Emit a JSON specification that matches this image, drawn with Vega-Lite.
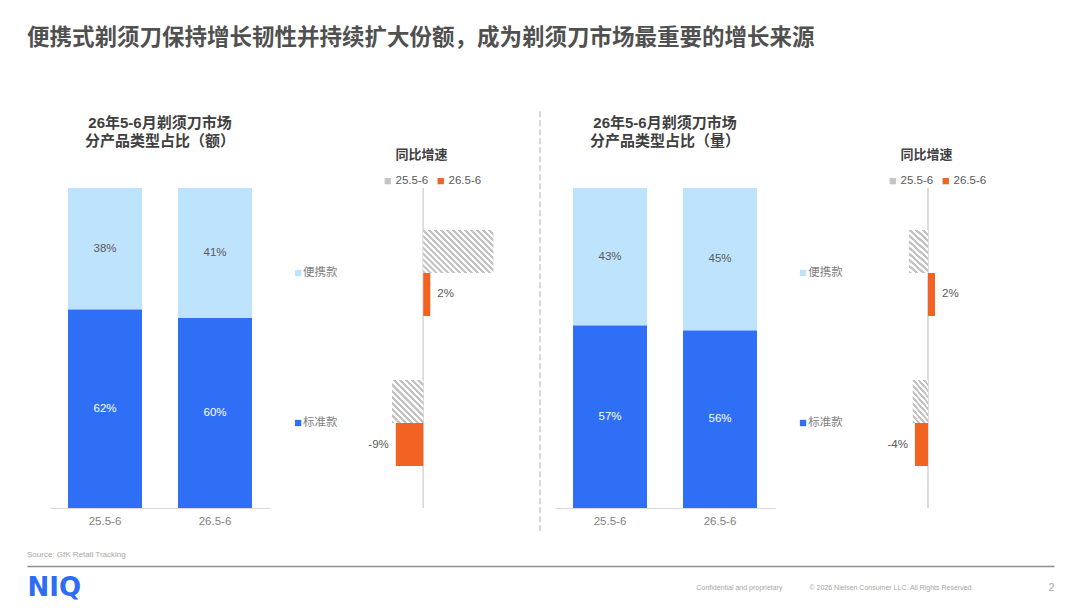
{
  "$schema": "https://vega.github.io/schema/vega-lite/v6.json",
  "background": "white",
  "padding": {"left": 24, "top": 26, "right": 0, "bottom": 0},
  "autosize": {"type": "pad"},
  "config": {
    "view": {"stroke": null},
    "font": "Liberation Sans, Noto Sans CJK SC, sans-serif",
    "axis": {"grid": false},
    "title": {"font": "Liberation Sans, Noto Sans CJK SC, sans-serif"}
  },
  "title": {
    "text": "便携式剃须刀保持增长韧性并持续扩大份额，成为剃须刀市场最重要的增长来源",
    "anchor": "start",
    "frame": "group",
    "fontSize": 22.5,
    "fontWeight": "bold",
    "color": "#505050",
    "offset": 61
  },
  "bounds": "full",
  "spacing": 15,
  "vconcat": [
    {
      "bounds": "flush",
      "spacing": 0,
      "resolve": {
        "scale": {"color": "independent", "yOffset": "independent"},
        "legend": {"color": "independent"}
      },
      "hconcat": [
        {
          "width": 243,
          "height": 320,
          "title": {"text": ["26年5-6月剃须刀市场", "分产品类型占比（额）"], "fontSize": 15, "fontWeight": "bold", "color": "#404040", "lineHeight": 18, "offset": 39, "dx": 11.5},
          "data": {"values": [
            {"period": "25.5-6", "product": "便携款", "value": 38},
            {"period": "25.5-6", "product": "标准款", "value": 62},
            {"period": "26.5-6", "product": "便携款", "value": 41},
            {"period": "26.5-6", "product": "标准款", "value": 60}
          ]},
          "transform": [
            {"stack": "value", "groupby": ["period"], "offset": "normalize", "sort": [{"field": "product", "order": "descending"}], "as": ["v0", "v1"]},
            {"calculate": "(datum.v0 + datum.v1) / 2", "as": "mid"},
            {"calculate": "datum.value + '%'", "as": "label"}
          ],
          "encoding": {
            "x": {"field": "period", "type": "nominal", "scale": {"domain": ["25.5-6", "26.5-6"], "paddingInner": 0, "paddingOuter": 0.10455, "align": 1},
              "axis": {"title": null, "labelAngle": 0, "ticks": false, "domainColor": "#d9d9d9", "domainDash": [0, 23, 220, 1000], "labelColor": "#7f7f7f", "labelFontSize": 11.5, "labelPadding": 7}}
          },
          "layer": [
            {
              "mark": {"type": "bar", "width": 74},
              "encoding": {
                "y": {"field": "v0", "type": "quantitative", "scale": {"domain": [0, 1], "nice": false}, "axis": null},
                "y2": {"field": "v1"},
                "color": {"field": "product", "type": "nominal", "scale": {"domain": ["便携款", "标准款"], "range": ["#bee3fc", "#2e6ff5"]}, "legend": null}
              }
            },
            {
              "mark": {"type": "text", "fontSize": 11.5},
              "encoding": {
                "y": {"field": "mid", "type": "quantitative"},
                "text": {"field": "label"},
                "color": {"condition": {"test": "datum.product == '标准款'", "value": "#ffffff"}, "value": "#595959"}
              }
            }
          ]
        },
        {
          "width": 265,
          "height": 320,
          "title": {"text": "同比增速", "fontSize": 13, "fontWeight": "bold", "color": "#404040", "anchor": "middle", "dx": 19, "offset": 13},
          "data": {"values": [
            {"cat": "便携款", "period": "25.5-6", "value": 22},
            {"cat": "便携款", "period": "26.5-6", "value": 2.2},
            {"cat": "标准款", "period": "25.5-6", "value": -9.8},
            {"cat": "标准款", "period": "26.5-6", "value": -8.6}
          ]},
          "transform": [{"calculate": "round(datum.value) + '%'", "as": "label"}],
          "encoding": {
            "x": {"field": "value", "type": "quantitative", "scale": {"domain": [-48, 35], "nice": false, "zero": false}, "axis": null}
          },
          "layer": [
            {"mark": {"type": "rule", "color": "#d9d9d9"}, "encoding": {"x": {"datum": 0, "type": "quantitative"}}},
            {
              "transform": [{"filter": "datum.period == '25.5-6' && datum.cat == '便携款'"}],
              "mark": {"type": "bar", "fill": {"gradient": "linear", "x1": 0, "y1": 1, "x2": 1.173, "y2": 0.282, "stops": [
                {"offset": 0, "color": "#c2c2c2"}, {"offset": 0.0237, "color": "#c2c2c2"}, {"offset": 0.0263, "color": "#ffffff"}, {"offset": 0.05, "color": "#ffffff"},
                {"offset": 0.0526, "color": "#c2c2c2"}, {"offset": 0.0763, "color": "#c2c2c2"}, {"offset": 0.0789, "color": "#ffffff"}, {"offset": 0.1026, "color": "#ffffff"},
                {"offset": 0.1053, "color": "#c2c2c2"}, {"offset": 0.1289, "color": "#c2c2c2"}, {"offset": 0.1316, "color": "#ffffff"}, {"offset": 0.1553, "color": "#ffffff"},
                {"offset": 0.1579, "color": "#c2c2c2"}, {"offset": 0.1816, "color": "#c2c2c2"}, {"offset": 0.1842, "color": "#ffffff"}, {"offset": 0.2079, "color": "#ffffff"},
                {"offset": 0.2105, "color": "#c2c2c2"}, {"offset": 0.2342, "color": "#c2c2c2"}, {"offset": 0.2368, "color": "#ffffff"}, {"offset": 0.2605, "color": "#ffffff"},
                {"offset": 0.2632, "color": "#c2c2c2"}, {"offset": 0.2868, "color": "#c2c2c2"}, {"offset": 0.2895, "color": "#ffffff"}, {"offset": 0.3132, "color": "#ffffff"},
                {"offset": 0.3158, "color": "#c2c2c2"}, {"offset": 0.3395, "color": "#c2c2c2"}, {"offset": 0.3421, "color": "#ffffff"}, {"offset": 0.3658, "color": "#ffffff"},
                {"offset": 0.3684, "color": "#c2c2c2"}, {"offset": 0.3921, "color": "#c2c2c2"}, {"offset": 0.3947, "color": "#ffffff"}, {"offset": 0.4184, "color": "#ffffff"},
                {"offset": 0.4211, "color": "#c2c2c2"}, {"offset": 0.4447, "color": "#c2c2c2"}, {"offset": 0.4474, "color": "#ffffff"}, {"offset": 0.4711, "color": "#ffffff"},
                {"offset": 0.4737, "color": "#c2c2c2"}, {"offset": 0.4974, "color": "#c2c2c2"}, {"offset": 0.5, "color": "#ffffff"}, {"offset": 0.5237, "color": "#ffffff"},
                {"offset": 0.5263, "color": "#c2c2c2"}, {"offset": 0.55, "color": "#c2c2c2"}, {"offset": 0.5526, "color": "#ffffff"}, {"offset": 0.5763, "color": "#ffffff"},
                {"offset": 0.5789, "color": "#c2c2c2"}, {"offset": 0.6026, "color": "#c2c2c2"}, {"offset": 0.6053, "color": "#ffffff"}, {"offset": 0.6289, "color": "#ffffff"},
                {"offset": 0.6316, "color": "#c2c2c2"}, {"offset": 0.6553, "color": "#c2c2c2"}, {"offset": 0.6579, "color": "#ffffff"}, {"offset": 0.6816, "color": "#ffffff"},
                {"offset": 0.6842, "color": "#c2c2c2"}, {"offset": 0.7079, "color": "#c2c2c2"}, {"offset": 0.7105, "color": "#ffffff"}, {"offset": 0.7342, "color": "#ffffff"},
                {"offset": 0.7368, "color": "#c2c2c2"}, {"offset": 0.7605, "color": "#c2c2c2"}, {"offset": 0.7632, "color": "#ffffff"}, {"offset": 0.7868, "color": "#ffffff"},
                {"offset": 0.7895, "color": "#c2c2c2"}, {"offset": 0.8132, "color": "#c2c2c2"}, {"offset": 0.8158, "color": "#ffffff"}, {"offset": 0.8395, "color": "#ffffff"},
                {"offset": 0.8421, "color": "#c2c2c2"}, {"offset": 0.8658, "color": "#c2c2c2"}, {"offset": 0.8684, "color": "#ffffff"}, {"offset": 0.8921, "color": "#ffffff"},
                {"offset": 0.8947, "color": "#c2c2c2"}, {"offset": 0.9184, "color": "#c2c2c2"}, {"offset": 0.9211, "color": "#ffffff"}, {"offset": 0.9447, "color": "#ffffff"},
                {"offset": 0.9474, "color": "#c2c2c2"}, {"offset": 0.9711, "color": "#c2c2c2"}, {"offset": 0.9737, "color": "#ffffff"}, {"offset": 1, "color": "#ffffff"}
              ]}},
              "encoding": {
                "y": {"field": "cat", "type": "nominal", "scale": {"domain": ["便携款", "标准款"], "paddingInner": 0.4267, "paddingOuter": 0.28}, "axis": null},
                "yOffset": {"field": "period", "type": "nominal", "scale": {"domain": ["25.5-6", "26.5-6"], "paddingInner": 0, "paddingOuter": 0}}
              }
            },
            {
              "transform": [{"filter": "datum.period == '25.5-6' && datum.cat == '标准款'"}],
              "mark": {"type": "bar", "fill": {"gradient": "linear", "x1": 0, "y1": 1, "x2": 0.822, "y2": -0.129, "stops": [
                {"offset": 0, "color": "#c2c2c2"}, {"offset": 0.0375, "color": "#c2c2c2"}, {"offset": 0.0417, "color": "#ffffff"}, {"offset": 0.0792, "color": "#ffffff"},
                {"offset": 0.0833, "color": "#c2c2c2"}, {"offset": 0.1208, "color": "#c2c2c2"}, {"offset": 0.125, "color": "#ffffff"}, {"offset": 0.1625, "color": "#ffffff"},
                {"offset": 0.1667, "color": "#c2c2c2"}, {"offset": 0.2042, "color": "#c2c2c2"}, {"offset": 0.2083, "color": "#ffffff"}, {"offset": 0.2458, "color": "#ffffff"},
                {"offset": 0.25, "color": "#c2c2c2"}, {"offset": 0.2875, "color": "#c2c2c2"}, {"offset": 0.2917, "color": "#ffffff"}, {"offset": 0.3292, "color": "#ffffff"},
                {"offset": 0.3333, "color": "#c2c2c2"}, {"offset": 0.3708, "color": "#c2c2c2"}, {"offset": 0.375, "color": "#ffffff"}, {"offset": 0.4125, "color": "#ffffff"},
                {"offset": 0.4167, "color": "#c2c2c2"}, {"offset": 0.4542, "color": "#c2c2c2"}, {"offset": 0.4583, "color": "#ffffff"}, {"offset": 0.4958, "color": "#ffffff"},
                {"offset": 0.5, "color": "#c2c2c2"}, {"offset": 0.5375, "color": "#c2c2c2"}, {"offset": 0.5417, "color": "#ffffff"}, {"offset": 0.5792, "color": "#ffffff"},
                {"offset": 0.5833, "color": "#c2c2c2"}, {"offset": 0.6208, "color": "#c2c2c2"}, {"offset": 0.625, "color": "#ffffff"}, {"offset": 0.6625, "color": "#ffffff"},
                {"offset": 0.6667, "color": "#c2c2c2"}, {"offset": 0.7042, "color": "#c2c2c2"}, {"offset": 0.7083, "color": "#ffffff"}, {"offset": 0.7458, "color": "#ffffff"},
                {"offset": 0.75, "color": "#c2c2c2"}, {"offset": 0.7875, "color": "#c2c2c2"}, {"offset": 0.7917, "color": "#ffffff"}, {"offset": 0.8292, "color": "#ffffff"},
                {"offset": 0.8333, "color": "#c2c2c2"}, {"offset": 0.8708, "color": "#c2c2c2"}, {"offset": 0.875, "color": "#ffffff"}, {"offset": 0.9125, "color": "#ffffff"},
                {"offset": 0.9167, "color": "#c2c2c2"}, {"offset": 0.9542, "color": "#c2c2c2"}, {"offset": 0.9583, "color": "#ffffff"}, {"offset": 1, "color": "#ffffff"}
              ]}},
              "encoding": {
                "y": {"field": "cat", "type": "nominal", "scale": {"domain": ["便携款", "标准款"], "paddingInner": 0.4267, "paddingOuter": 0.28}, "axis": null},
                "yOffset": {"field": "period", "type": "nominal", "scale": {"domain": ["25.5-6", "26.5-6"], "paddingInner": 0, "paddingOuter": 0}}
              }
            },
            {
              "transform": [{"filter": "datum.period == '26.5-6'"}],
              "mark": {"type": "bar"},
              "encoding": {
                "y": {"field": "cat", "type": "nominal", "scale": {"domain": ["便携款", "标准款"], "paddingInner": 0.4267, "paddingOuter": 0.28}, "axis": null},
                "yOffset": {"field": "period", "type": "nominal", "scale": {"domain": ["25.5-6", "26.5-6"], "paddingInner": 0, "paddingOuter": 0}},
                "color": {"field": "period", "type": "nominal", "scale": {"domain": ["25.5-6", "26.5-6"], "range": ["#c4c4c4", "#f26222"]},
                  "legend": {"orient": "none", "legendX": 112, "legendY": -13, "direction": "horizontal", "title": null, "symbolType": "square", "symbolSize": 40, "labelFontSize": 11.5, "labelColor": "#595959", "columnPadding": 6, "labelOffset": 2}}
              }
            },
            {
              "transform": [{"filter": "datum.period == '26.5-6' && datum.value > 0"}],
              "mark": {"type": "text", "align": "left", "dx": 7, "fontSize": 11.5, "color": "#595959"},
              "encoding": {
                "y": {"field": "cat", "type": "nominal", "scale": {"domain": ["便携款", "标准款"], "paddingInner": 0.4267, "paddingOuter": 0.28}, "axis": null},
                "yOffset": {"field": "period", "type": "nominal", "scale": {"domain": ["25.5-6", "26.5-6"], "paddingInner": 0, "paddingOuter": 0}},
                "text": {"field": "label"}
              }
            },
            {
              "transform": [{"filter": "datum.period == '26.5-6' && datum.value < 0"}],
              "mark": {"type": "text", "align": "right", "dx": -7, "fontSize": 11.5, "color": "#595959"},
              "encoding": {
                "y": {"field": "cat", "type": "nominal", "scale": {"domain": ["便携款", "标准款"], "paddingInner": 0.4267, "paddingOuter": 0.28}, "axis": null},
                "yOffset": {"field": "period", "type": "nominal", "scale": {"domain": ["25.5-6", "26.5-6"], "paddingInner": 0, "paddingOuter": 0}},
                "text": {"field": "label"}
              }
            },
            {
              "transform": [{"filter": "datum.period == '26.5-6'"}],
              "mark": {"type": "point", "shape": "square", "size": 40, "filled": true, "opacity": 1},
              "encoding": {
                "x": {"datum": -39.2, "type": "quantitative"},
                "y": {"field": "cat", "type": "nominal", "scale": {"domain": ["便携款", "标准款"], "paddingInner": 0.4267, "paddingOuter": 0.28}, "axis": null},
                "fill": {"condition": {"test": "datum.cat == '便携款'", "value": "#bee3fc"}, "value": "#2e6ff5"}
              }
            },
            {
              "transform": [{"filter": "datum.period == '26.5-6'"}],
              "mark": {"type": "text", "align": "left", "baseline": "middle", "fontSize": 11.5, "color": "#7f7f7f"},
              "encoding": {
                "x": {"datum": -37.7, "type": "quantitative"},
                "y": {"field": "cat", "type": "nominal", "scale": {"domain": ["便携款", "标准款"], "paddingInner": 0.4267, "paddingOuter": 0.28}, "axis": null},
                "text": {"field": "cat"}
              }
            }
          ]
        },
        {
          "width": 20,
          "height": 320,
          "data": {"values": [{}]},
          "mark": {"type": "rule", "color": "#d9d9d9", "strokeWidth": 2, "strokeDash": [6, 3]},
          "encoding": {
            "x": {"datum": 0.25, "type": "quantitative", "scale": {"domain": [0, 1], "nice": false}, "axis": null},
            "y": {"datum": 1.24, "type": "quantitative", "scale": {"domain": [0, 1], "nice": false}, "axis": null},
            "y2": {"datum": -0.08}
          }
        },
        {
          "width": 220,
          "height": 320,
          "title": {"text": ["26年5-6月剃须刀市场", "分产品类型占比（量）"], "fontSize": 15, "fontWeight": "bold", "color": "#404040", "lineHeight": 18, "offset": 39},
          "data": {"values": [
            {"period": "25.5-6", "product": "便携款", "value": 43},
            {"period": "25.5-6", "product": "标准款", "value": 57},
            {"period": "26.5-6", "product": "便携款", "value": 45},
            {"period": "26.5-6", "product": "标准款", "value": 56}
          ]},
          "transform": [
            {"stack": "value", "groupby": ["period"], "offset": "normalize", "sort": [{"field": "product", "order": "descending"}], "as": ["v0", "v1"]},
            {"calculate": "(datum.v0 + datum.v1) / 2", "as": "mid"},
            {"calculate": "datum.value + '%'", "as": "label"}
          ],
          "encoding": {
            "x": {"field": "period", "type": "nominal", "scale": {"domain": ["25.5-6", "26.5-6"], "paddingInner": 0, "paddingOuter": 0},
              "axis": {"title": null, "labelAngle": 0, "ticks": false, "domainColor": "#d9d9d9", "labelColor": "#7f7f7f", "labelFontSize": 11.5, "labelPadding": 7}}
          },
          "layer": [
            {
              "mark": {"type": "bar", "width": 74},
              "encoding": {
                "y": {"field": "v0", "type": "quantitative", "scale": {"domain": [0, 1], "nice": false}, "axis": null},
                "y2": {"field": "v1"},
                "color": {"field": "product", "type": "nominal", "scale": {"domain": ["便携款", "标准款"], "range": ["#bee3fc", "#2e6ff5"]}, "legend": null}
              }
            },
            {
              "mark": {"type": "text", "fontSize": 11.5},
              "encoding": {
                "y": {"field": "mid", "type": "quantitative"},
                "text": {"field": "label"},
                "color": {"condition": {"test": "datum.product == '标准款'", "value": "#ffffff"}, "value": "#595959"}
              }
            }
          ]
        },
        {
          "width": 255,
          "height": 320,
          "title": {"text": "同比增速", "fontSize": 13, "fontWeight": "bold", "color": "#404040", "anchor": "middle", "dx": 24, "offset": 13},
          "data": {"values": [
            {"cat": "便携款", "period": "25.5-6", "value": -6},
            {"cat": "便携款", "period": "26.5-6", "value": 2.2},
            {"cat": "标准款", "period": "25.5-6", "value": -4.8},
            {"cat": "标准款", "period": "26.5-6", "value": -4.1}
          ]},
          "transform": [{"calculate": "round(datum.value) + '%'", "as": "label"}],
          "encoding": {
            "x": {"field": "value", "type": "quantitative", "scale": {"domain": [-48, 32], "nice": false, "zero": false}, "axis": null}
          },
          "layer": [
            {"mark": {"type": "rule", "color": "#d9d9d9"}, "encoding": {"x": {"datum": 0, "type": "quantitative"}}},
            {
              "transform": [{"filter": "datum.period == '25.5-6'"}],
              "mark": {"type": "bar", "fill": {"gradient": "linear", "x1": 0, "y1": 1, "x2": 0.4855, "y2": -0.207, "stops": [
                {"offset": 0, "color": "#c2c2c2"}, {"offset": 0.045, "color": "#c2c2c2"}, {"offset": 0.05, "color": "#ffffff"}, {"offset": 0.095, "color": "#ffffff"},
                {"offset": 0.1, "color": "#c2c2c2"}, {"offset": 0.145, "color": "#c2c2c2"}, {"offset": 0.15, "color": "#ffffff"}, {"offset": 0.195, "color": "#ffffff"},
                {"offset": 0.2, "color": "#c2c2c2"}, {"offset": 0.245, "color": "#c2c2c2"}, {"offset": 0.25, "color": "#ffffff"}, {"offset": 0.295, "color": "#ffffff"},
                {"offset": 0.3, "color": "#c2c2c2"}, {"offset": 0.345, "color": "#c2c2c2"}, {"offset": 0.35, "color": "#ffffff"}, {"offset": 0.395, "color": "#ffffff"},
                {"offset": 0.4, "color": "#c2c2c2"}, {"offset": 0.445, "color": "#c2c2c2"}, {"offset": 0.45, "color": "#ffffff"}, {"offset": 0.495, "color": "#ffffff"},
                {"offset": 0.5, "color": "#c2c2c2"}, {"offset": 0.545, "color": "#c2c2c2"}, {"offset": 0.55, "color": "#ffffff"}, {"offset": 0.595, "color": "#ffffff"},
                {"offset": 0.6, "color": "#c2c2c2"}, {"offset": 0.645, "color": "#c2c2c2"}, {"offset": 0.65, "color": "#ffffff"}, {"offset": 0.695, "color": "#ffffff"},
                {"offset": 0.7, "color": "#c2c2c2"}, {"offset": 0.745, "color": "#c2c2c2"}, {"offset": 0.75, "color": "#ffffff"}, {"offset": 0.795, "color": "#ffffff"},
                {"offset": 0.8, "color": "#c2c2c2"}, {"offset": 0.845, "color": "#c2c2c2"}, {"offset": 0.85, "color": "#ffffff"}, {"offset": 0.895, "color": "#ffffff"},
                {"offset": 0.9, "color": "#c2c2c2"}, {"offset": 0.945, "color": "#c2c2c2"}, {"offset": 0.95, "color": "#ffffff"}, {"offset": 1, "color": "#ffffff"}
              ]}},
              "encoding": {
                "y": {"field": "cat", "type": "nominal", "scale": {"domain": ["便携款", "标准款"], "paddingInner": 0.4267, "paddingOuter": 0.28}, "axis": null},
                "yOffset": {"field": "period", "type": "nominal", "scale": {"domain": ["25.5-6", "26.5-6"], "paddingInner": 0, "paddingOuter": 0}}
              }
            },
            {
              "transform": [{"filter": "datum.period == '26.5-6'"}],
              "mark": {"type": "bar"},
              "encoding": {
                "y": {"field": "cat", "type": "nominal", "scale": {"domain": ["便携款", "标准款"], "paddingInner": 0.4267, "paddingOuter": 0.28}, "axis": null},
                "yOffset": {"field": "period", "type": "nominal", "scale": {"domain": ["25.5-6", "26.5-6"], "paddingInner": 0, "paddingOuter": 0}},
                "color": {"field": "period", "type": "nominal", "scale": {"domain": ["25.5-6", "26.5-6"], "range": ["#c4c4c4", "#f26222"]},
                  "legend": {"orient": "none", "legendX": 112, "legendY": -13, "direction": "horizontal", "title": null, "symbolType": "square", "symbolSize": 40, "labelFontSize": 11.5, "labelColor": "#595959", "columnPadding": 6, "labelOffset": 2}}
              }
            },
            {
              "transform": [{"filter": "datum.period == '26.5-6' && datum.value > 0"}],
              "mark": {"type": "text", "align": "left", "dx": 7, "fontSize": 11.5, "color": "#595959"},
              "encoding": {
                "y": {"field": "cat", "type": "nominal", "scale": {"domain": ["便携款", "标准款"], "paddingInner": 0.4267, "paddingOuter": 0.28}, "axis": null},
                "yOffset": {"field": "period", "type": "nominal", "scale": {"domain": ["25.5-6", "26.5-6"], "paddingInner": 0, "paddingOuter": 0}},
                "text": {"field": "label"}
              }
            },
            {
              "transform": [{"filter": "datum.period == '26.5-6' && datum.value < 0"}],
              "mark": {"type": "text", "align": "right", "dx": -7, "fontSize": 11.5, "color": "#595959"},
              "encoding": {
                "y": {"field": "cat", "type": "nominal", "scale": {"domain": ["便携款", "标准款"], "paddingInner": 0.4267, "paddingOuter": 0.28}, "axis": null},
                "yOffset": {"field": "period", "type": "nominal", "scale": {"domain": ["25.5-6", "26.5-6"], "paddingInner": 0, "paddingOuter": 0}},
                "text": {"field": "label"}
              }
            },
            {
              "transform": [{"filter": "datum.period == '26.5-6'"}],
              "mark": {"type": "point", "shape": "square", "size": 40, "filled": true, "opacity": 1},
              "encoding": {
                "x": {"datum": -39.2, "type": "quantitative"},
                "y": {"field": "cat", "type": "nominal", "scale": {"domain": ["便携款", "标准款"], "paddingInner": 0.4267, "paddingOuter": 0.28}, "axis": null},
                "fill": {"condition": {"test": "datum.cat == '便携款'", "value": "#bee3fc"}, "value": "#2e6ff5"}
              }
            },
            {
              "transform": [{"filter": "datum.period == '26.5-6'"}],
              "mark": {"type": "text", "align": "left", "baseline": "middle", "fontSize": 11.5, "color": "#7f7f7f"},
              "encoding": {
                "x": {"datum": -37.6, "type": "quantitative"},
                "y": {"field": "cat", "type": "nominal", "scale": {"domain": ["便携款", "标准款"], "paddingInner": 0.4267, "paddingOuter": 0.28}, "axis": null},
                "text": {"field": "cat"}
              }
            }
          ]
        }
      ]
    },
    {
      "width": 1027,
      "height": 1,
      "title": {"text": "Source: GfK Retail Tracking", "anchor": "start", "frame": "group", "fontSize": 8, "fontWeight": "normal", "color": "#a6a6a6", "offset": 4},
      "data": {"values": [{}]},
      "mark": {"type": "point", "opacity": 0},
      "encoding": {
        "x": {
          "datum": 0,
          "type": "quantitative",
          "scale": {"domain": [0, 100], "nice": false},
          "axis": {
            "orient": "bottom",
            "title": null,
            "values": [0, 65.14, 76.14, 99.42],
            "labelExpr": "datum.value == 0 ? 'NIQ' : datum.value < 70 ? 'Confidential and proprietary' : datum.value < 90 ? '© 2026 Nielsen Consumer LLC. All Rights Reserved.' : '2'",
            "domainColor": "#8c8c8c",
            "domainWidth": 1.5,
            "ticks": false,
            "tickSize": 0,
            "grid": false,
            "labelAlign": "left",
            "labelBaseline": "middle",
            "labelPadding": 21,
            "labelFlush": false,
            "labelOverlap": false,
            "labelBound": false,
            "labelLimit": 0,
            "labelFontSize": {"condition": [{"test": "datum.value == 0", "value": 26}, {"test": "datum.value > 90", "value": 11}], "value": 7},
            "labelColor": {"condition": {"test": "datum.value == 0", "value": "#2f6cf4"}, "value": "#a6a6a6"},
            "labelFontWeight": {"condition": {"test": "datum.value == 0", "value": "bold"}, "value": "normal"},
            "labelFont": {"condition": {"test": "datum.value == 0", "value": "DejaVu Sans"}, "value": "Liberation Sans"}
          }
        }
      }
    }
  ]
}
